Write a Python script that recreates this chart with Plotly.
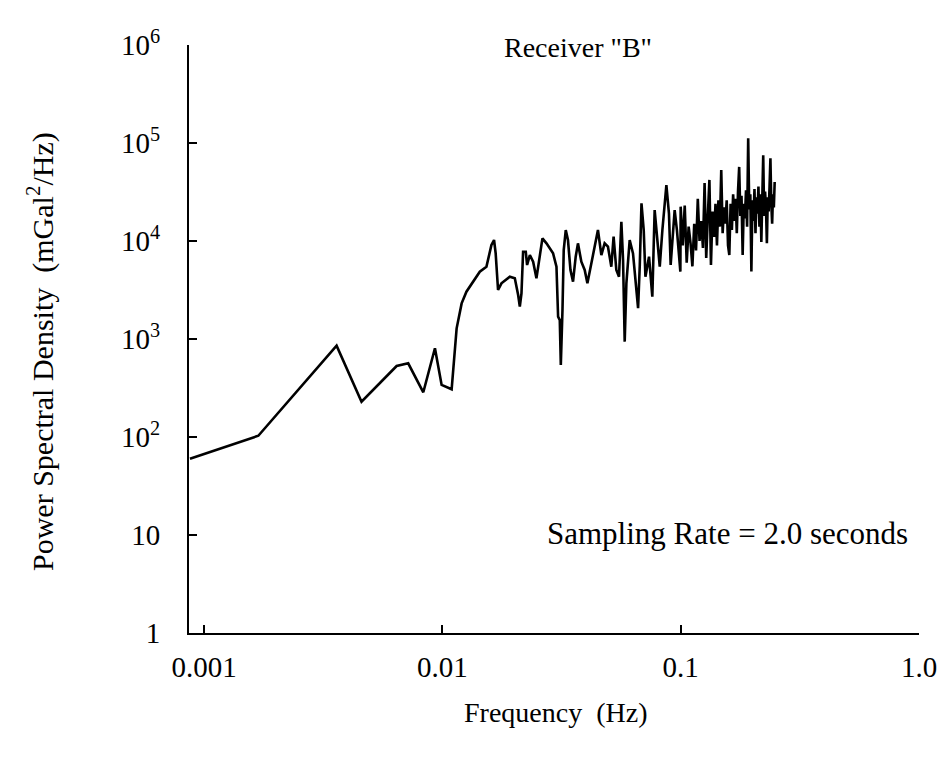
import plotly.graph_objects as go

# Frequency (Hz) and power spectral density (mGal^2/Hz)
freq_low = [0.000873, 0.00169, 0.00360, 0.00458, 0.00643, 0.00719, 0.00832, 0.00931,
            0.00993, 0.01094, 0.01148, 0.01205, 0.01262, 0.01436, 0.01531, 0.01607,
            0.01648, 0.01674, 0.01713, 0.01770, 0.01919, 0.02014, 0.02080, 0.02114,
            0.02148, 0.02182, 0.02239, 0.02268, 0.02329, 0.02404, 0.02482, 0.02546,
            0.02630, 0.02735, 0.02915, 0.03012, 0.03060, 0.03110, 0.03141, 0.03192,
            0.03231, 0.03295, 0.03366, 0.03448, 0.03535, 0.03627, 0.03707, 0.03830,
            0.03956, 0.04061, 0.04222, 0.04357, 0.04497, 0.04647, 0.04797, 0.04953,
            0.05117, 0.05231, 0.05371, 0.05511, 0.05638, 0.05731, 0.05823, 0.05919,
            0.06110, 0.06309, 0.06481, 0.06627, 0.06737, 0.06848, 0.06998, 0.07114,
            0.07366, 0.07604, 0.07778, 0.07959, 0.08170, 0.08381, 0.08710, 0.08930,
            0.09077, 0.09436, 0.09645, 0.09970]
psd_low = [60, 103, 855, 229, 530, 565, 286, 804,
           340, 307, 1285, 2310, 3040, 4860, 5470, 9100,
           10230, 7480, 3160, 3700, 4325, 4160, 2810, 2140,
           2925, 7780, 7780, 5690, 7190, 6150, 4160, 6650,
           10640, 9460, 7480, 5470, 1690, 1560, 543, 1980,
           8090, 12940, 10230, 5060, 3850, 6920, 9460, 6150,
           5060, 3700, 5920, 9460, 12940, 7190, 9460, 8750,
           5470, 11070, 5060, 4325, 15740, 6400, 940, 3700,
           10230, 7480, 3460, 2060, 5690, 24200, 12940, 4325,
           6920, 2700, 20700, 11070, 5470, 12940, 37200, 19000,
           5690, 20700, 12940, 4860]

freq_high = [0.100, 0.102, 0.104, 0.106, 0.108, 0.110, 0.112, 0.114, 0.116, 0.118,
             0.120, 0.122, 0.124, 0.126, 0.128, 0.130, 0.132, 0.134, 0.136, 0.138,
             0.140, 0.142, 0.144, 0.146, 0.148, 0.150, 0.152, 0.154, 0.156, 0.158,
             0.160, 0.162, 0.164, 0.166, 0.168, 0.170, 0.172, 0.174, 0.176, 0.178,
             0.180, 0.182, 0.184, 0.186, 0.188, 0.190, 0.192, 0.194, 0.196, 0.198,
             0.200, 0.202, 0.204, 0.206, 0.208, 0.210, 0.212, 0.214, 0.216, 0.218,
             0.220, 0.222, 0.224, 0.226, 0.228, 0.230, 0.232, 0.234, 0.236, 0.238,
             0.240, 0.242, 0.244, 0.246, 0.248]
psd_high = [22400, 9000, 23000, 6000, 14000, 9500, 5500, 15000, 8000, 27000,
            10000, 16000, 8500, 39000, 6700, 18000, 42000, 5700, 20000, 11000,
            24000, 9000, 26000, 14000, 53000, 12000, 22000, 15000, 26000, 9000,
            7200, 24000, 13000, 30000, 16000, 27000, 12000, 32000, 57000, 18000,
            29000, 7200, 24000, 17000, 33000, 14000, 112000, 21000, 30000, 4900,
            26000, 16000, 34000, 12000, 28000, 19000, 36000, 14000, 30000, 9800,
            26000, 75000, 18000, 32000, 22000, 9500, 28000, 20000, 36000, 70000,
            24000, 15000, 30000, 22000, 40000]

x_tick_vals = [0.001, 0.01, 0.1, 1.0]
x_tick_text = ["0.001", "0.01", "0.1", "1.0"]
y_tick_vals = [1, 10, 100, 1000, 10000, 100000, 1000000]
y_tick_text = ["1", "10", "10<sup>2</sup>", "10<sup>3</sup>", "10<sup>4</sup>",
               "10<sup>5</sup>", "10<sup>6</sup>"]

FONT = "Liberation Serif"

fig = go.Figure()
fig.add_trace(go.Scatter(
    x=freq_low + freq_high, y=psd_low + psd_high,
    mode="lines", line=dict(color="black", width=2.6),
    showlegend=False, hoverinfo="skip"))

fig.update_layout(
    width=943, height=752,
    margin=dict(l=181, r=32, t=37, b=127),
    paper_bgcolor="white", plot_bgcolor="white",
    font=dict(family=FONT, size=29, color="black"),
    xaxis=dict(type="log", range=[-3.063, 0], tickvals=x_tick_vals, ticktext=x_tick_text,
               ticks="inside", ticklen=8, tickwidth=2, tickcolor="black",
               showline=True, linecolor="black", linewidth=2, showgrid=False,
               zeroline=False, ticklabelstandoff=7,
               tickfont=dict(family=FONT, size=29, color="black")),
    yaxis=dict(type="log", range=[0, 6], tickvals=y_tick_vals, ticktext=y_tick_text,
               ticks="inside", ticklen=8, tickwidth=2, tickcolor="black",
               showline=True, linecolor="black", linewidth=2, showgrid=False,
               zeroline=False, ticklabelstandoff=21,
               tickfont=dict(family=FONT, size=29, color="black")),
    annotations=[
        dict(text='Receiver "B"', xref="paper", yref="paper", x=(502 - 189) / 730, y=0.995,
             xanchor="left", yanchor="middle", showarrow=False,
             font=dict(family=FONT, size=28, color="black")),
        dict(text="Sampling Rate = 2.0 seconds", xref="paper", yref="paper",
             x=(545 - 189) / 730, y=(633 - 533) / 588, xanchor="left", yanchor="middle",
             showarrow=False, font=dict(family=FONT, size=31, color="black")),
        dict(text="Frequency  (Hz)", xref="paper", yref="paper",
             x=(555 - 189) / 730, y=(633 - 712) / 588, xanchor="center", yanchor="middle",
             showarrow=False, font=dict(family=FONT, size=28, color="black")),
        dict(text="Power Spectral Density  (mGal<sup>2</sup>/Hz)", xref="paper", yref="paper",
             x=(40 - 189) / 730, y=(633 - 352) / 588, xanchor="center", yanchor="middle",
             textangle=-90, showarrow=False,
             font=dict(family=FONT, size=30, color="black")),
    ],
)

fig.write_html("out.html")
